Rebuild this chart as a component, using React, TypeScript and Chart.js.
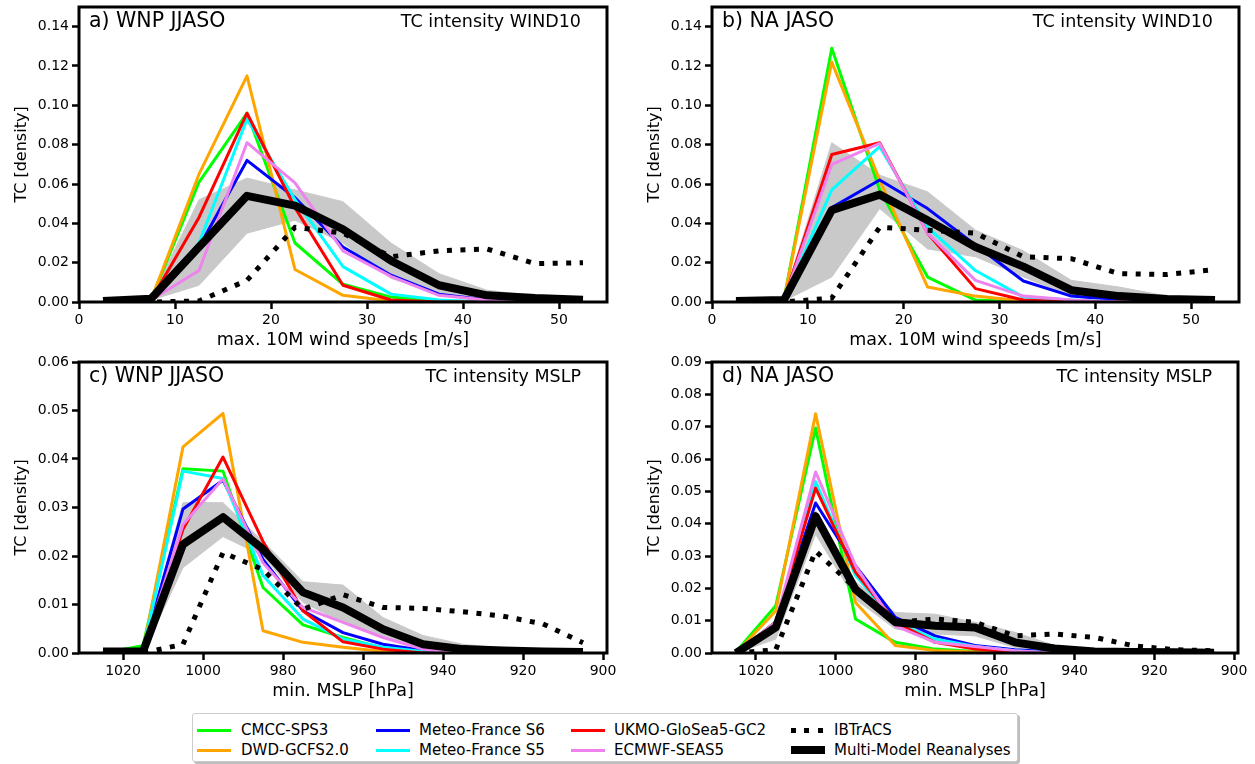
import React, { useEffect, useRef } from "react";
import { Chart, registerables } from "chart.js";
Chart.register(...registerables);

const FONT = "'DejaVu Sans', sans-serif";

// ---------- bins & ticks ----------
const windBins = [2.5, 7.5, 12.5, 17.5, 22.5, 27.5, 32.5, 37.5, 42.5, 47.5, 52.5];
const mslpBins = [1025, 1015, 1005, 995, 985, 975, 965, 955, 945, 935, 925, 915, 905];
const windTicks = [0, 10, 20, 30, 40, 50];
const mslpTicks = [1020, 1000, 980, 960, 940, 920, 900];
const densTicksWind = [0, 0.02, 0.04, 0.06, 0.08, 0.1, 0.12, 0.14];
const densTicksWnpMslp = [0, 0.01, 0.02, 0.03, 0.04, 0.05, 0.06];
const densTicksNaMslp = [0, 0.01, 0.02, 0.03, 0.04, 0.05, 0.06, 0.07, 0.08, 0.09];

const modelNames = ["CMCC-SPS3", "DWD-GCFS2.0", "Meteo-France S6", "Meteo-France S5", "UKMO-GloSea5-GC2", "ECMWF-SEAS5"];
const modelColors = ["#00ff00", "#ffa500", "#0000ff", "#00ffff", "#ff0000", "#ee82ee"];

// ---------- a) WNP JJASO wind ----------
const aCMCC = [0, 0.001, 0.061, 0.096, 0.030, 0.009, 0.0025, 0.0005, 0, 0, 0];
const aDWD = [0, 0.001, 0.065, 0.115, 0.0165, 0.0034, 0.0005, 0, 0, 0, 0];
const aMF6 = [0, 0.001, 0.028, 0.072, 0.053, 0.028, 0.0136, 0.004, 0.001, 0, 0];
const aMF5 = [0, 0.001, 0.030, 0.093, 0.052, 0.018, 0.004, 0.001, 0, 0, 0];
const aUKMO = [0, 0.001, 0.043, 0.096, 0.048, 0.0085, 0.001, 0, 0, 0, 0];
const aECMWF = [0, 0.001, 0.016, 0.081, 0.0606, 0.026, 0.013, 0.0034, 0.001, 0, 0];
const aIBTrACS = [0, 0, 0.0005, 0.011, 0.038, 0.035, 0.023, 0.026, 0.027, 0.0195, 0.020];
const aReanalyses = [0.0005, 0.0017, 0.028, 0.054, 0.049, 0.037, 0.021, 0.0085, 0.0034, 0.002, 0.0012];
const aBandUpper = [0.001, 0.002, 0.052, 0.063, 0.057, 0.051, 0.030, 0.0144, 0.006, 0.003, 0.002];
const aBandLower = [0, 0.001, 0.0085, 0.035, 0.0416, 0.030, 0.012, 0.004, 0.001, 0, 0];

// ---------- b) NA JASO wind ----------
const bCMCC = [0, 0.001, 0.129, 0.057, 0.0127, 0.001, 0, 0, 0, 0, 0];
const bDWD = [0, 0.001, 0.122, 0.062, 0.0076, 0.003, 0.0005, 0, 0, 0, 0];
const bMF6 = [0, 0.001, 0.048, 0.062, 0.0475, 0.029, 0.0107, 0.003, 0.001, 0, 0];
const bMF5 = [0, 0.001, 0.057, 0.079, 0.038, 0.016, 0.0025, 0.001, 0, 0, 0];
const bUKMO = [0, 0.001, 0.075, 0.081, 0.035, 0.0068, 0.001, 0, 0, 0, 0];
const bECMWF = [0, 0.001, 0.070, 0.0806, 0.035, 0.011, 0.003, 0.001, 0, 0, 0];
const bIBTrACS = [0, 0, 0.002, 0.038, 0.0365, 0.035, 0.023, 0.022, 0.0144, 0.014, 0.0165];
const bReanalyses = [0.0005, 0.001, 0.0467, 0.0546, 0.0416, 0.028, 0.018, 0.006, 0.003, 0.0015, 0.001];
const bBandUpper = [0.001, 0.002, 0.081, 0.0645, 0.056, 0.0365, 0.026, 0.011, 0.0076, 0.003, 0.0015];
const bBandLower = [0, 0.0005, 0.0127, 0.0475, 0.027, 0.023, 0.0127, 0.003, 0.001, 0, 0];

// ---------- c) WNP JJASO MSLP ----------
const cCMCC = [0, 0.0015, 0.038, 0.0375, 0.0135, 0.0058, 0.0032, 0.001, 0, 0, 0, 0, 0];
const cDWD = [0, 0.0005, 0.0425, 0.0494, 0.0046, 0.0022, 0.0012, 0.0003, 0, 0, 0, 0, 0];
const cMF6 = [0, 0.0005, 0.0297, 0.0356, 0.0193, 0.0087, 0.0042, 0.0018, 0.0005, 0, 0, 0, 0];
const cMF5 = [0, 0.0005, 0.0375, 0.036, 0.016, 0.007, 0.0029, 0.0012, 0.0003, 0, 0, 0, 0];
const cUKMO = [0, 0.0005, 0.0255, 0.0404, 0.023, 0.0087, 0.0023, 0.0008, 0, 0, 0, 0, 0];
const cECMWF = [0, 0.0005, 0.0265, 0.0359, 0.0186, 0.0094, 0.0063, 0.0032, 0.0008, 0, 0, 0, 0];
const cIBTrACS = [0, 0, 0.0018, 0.0207, 0.0172, 0.009, 0.012, 0.0094, 0.0092, 0.0085, 0.0076, 0.006, 0.0021];
const cReanalyses = [0.0003, 0.0003, 0.0224, 0.028, 0.0214, 0.0125, 0.0094, 0.0049, 0.0018, 0.0008, 0.0005, 0.0003, 0.0002];
const cBandUpper = [0.0005, 0.0008, 0.031, 0.031, 0.023, 0.0147, 0.014, 0.0073, 0.0036, 0.0018, 0.001, 0.0006, 0.0004];
const cBandLower = [0, 0, 0.0176, 0.024, 0.020, 0.0104, 0.0063, 0.0032, 0.001, 0.0003, 0, 0, 0];

// ---------- d) NA JASO MSLP ----------
const dCMCC = [0.0003, 0.0146, 0.0696, 0.0105, 0.0033, 0.0012, 0.0005, 0, 0, 0, 0, 0, 0];
const dDWD = [0, 0.013, 0.074, 0.0156, 0.0023, 0.0008, 0.0003, 0, 0, 0, 0, 0, 0];
const dMF6 = [0, 0.0095, 0.0464, 0.027, 0.011, 0.0053, 0.0023, 0.001, 0.0003, 0, 0, 0, 0];
const dMF5 = [0, 0.0095, 0.053, 0.024, 0.0095, 0.0043, 0.002, 0.0007, 0, 0, 0, 0, 0];
const dUKMO = [0, 0.0095, 0.051, 0.025, 0.0095, 0.0033, 0.0012, 0.0003, 0, 0, 0, 0, 0];
const dECMWF = [0, 0.0095, 0.056, 0.027, 0.0084, 0.0033, 0.002, 0.0007, 0, 0, 0, 0, 0];
const dIBTrACS = [0, 0.001, 0.0315, 0.020, 0.0095, 0.0105, 0.0095, 0.0053, 0.0059, 0.0048, 0.0022, 0.001, 0.0007];
const dReanalyses = [0, 0.0079, 0.0423, 0.0197, 0.0095, 0.0084, 0.0079, 0.0033, 0.0014, 0.0005, 0.0003, 0.0002, 0.0001];
const dBandUpper = [0.0003, 0.010, 0.044, 0.022, 0.0125, 0.012, 0.0095, 0.0064, 0.0023, 0.001, 0.0005, 0.0005, 0.0005];
const dBandLower = [0, 0.0043, 0.0367, 0.0166, 0.0074, 0.0059, 0.0053, 0.0017, 0.0005, 0, 0, 0, 0];

type Panel = {
  left: number; top: number; width: number; height: number;
  padTop: number; padRight: number; yWidth: number; xHeight: number;
  yTitlePad: number; xTitlePad: number;
  xMin: number; xMax: number; reverse: boolean;
  bins: number[]; xTicks: number[]; yMax: number; yTicks: number[];
  xTitle: string; label: string; rightLabel: string;
  models: number[][]; ibtracs: number[]; rean: number[]; upper: number[]; lower: number[];
};

const panels: Panel[] = [
  {
    left: 0, top: -7, width: 625, height: 363, padTop: 14, padRight: 18, yWidth: 79, xHeight: 54,
    yTitlePad: 12.4, xTitlePad: 5.5, xMin: 0, xMax: 55, reverse: false,
    bins: windBins, xTicks: windTicks, yMax: 0.15, yTicks: densTicksWind,
    xTitle: "max. 10M wind speeds [m/s]", label: "a) WNP JJASO", rightLabel: "TC intensity WIND10",
    models: [aCMCC, aDWD, aMF6, aMF5, aUKMO, aECMWF], ibtracs: aIBTrACS, rean: aReanalyses, upper: aBandUpper, lower: aBandLower,
  },
  {
    left: 630, top: -7, width: 625, height: 363, padTop: 14, padRight: 16, yWidth: 82, xHeight: 54,
    yTitlePad: 15.4, xTitlePad: 5.5, xMin: 0, xMax: 55, reverse: false,
    bins: windBins, xTicks: windTicks, yMax: 0.15, yTicks: densTicksWind,
    xTitle: "max. 10M wind speeds [m/s]", label: "b) NA JASO", rightLabel: "TC intensity WIND10",
    models: [bCMCC, bDWD, bMF6, bMF5, bUKMO, bECMWF], ibtracs: bIBTrACS, rean: bReanalyses, upper: bBandUpper, lower: bBandLower,
  },
  {
    left: 0, top: 348, width: 625, height: 365, padTop: 14, padRight: 18, yWidth: 79, xHeight: 60,
    yTitlePad: 12.4, xTitlePad: 11.5, xMin: 899, xMax: 1031, reverse: true,
    bins: mslpBins, xTicks: mslpTicks, yMax: 0.06, yTicks: densTicksWnpMslp,
    xTitle: "min. MSLP [hPa]", label: "c) WNP JJASO", rightLabel: "TC intensity MSLP",
    models: [cCMCC, cDWD, cMF6, cMF5, cUKMO, cECMWF], ibtracs: cIBTrACS, rean: cReanalyses, upper: cBandUpper, lower: cBandLower,
  },
  {
    left: 630, top: 348, width: 625, height: 365, padTop: 14, padRight: 17, yWidth: 82, xHeight: 60,
    yTitlePad: 15.4, xTitlePad: 11.5, xMin: 899, xMax: 1031, reverse: true,
    bins: mslpBins, xTicks: mslpTicks, yMax: 0.09, yTicks: densTicksNaMslp,
    xTitle: "min. MSLP [hPa]", label: "d) NA JASO", rightLabel: "TC intensity MSLP",
    models: [dCMCC, dDWD, dMF6, dMF5, dUKMO, dECMWF], ibtracs: dIBTrACS, rean: dReanalyses, upper: dBandUpper, lower: dBandLower,
  },
];

const BAND = "#c9c9c9";

function pts(bins: number[], vals: number[]) {
  return bins.map((x, i) => ({ x, y: vals[i] }));
}

function makeChart(canvas: HTMLCanvasElement, p: Panel) {
  const datasets: any[] = [];
  datasets.push({ label: "Multi-Model Reanalyses", data: pts(p.bins, p.rean), borderColor: "#000", borderWidth: 8, borderJoinStyle: "round", fill: false });
  datasets.push({ label: "IBTrACS", data: pts(p.bins, p.ibtracs), borderColor: "#000", borderWidth: 5, borderDash: [5, 8.5], borderCapStyle: "butt", fill: false });
  for (let i = p.models.length - 1; i >= 0; i--) {
    datasets.push({ label: modelNames[i], data: pts(p.bins, p.models[i]), borderColor: modelColors[i], borderWidth: 3, borderJoinStyle: "round", fill: false });
  }
  datasets.push({ label: "upper", data: pts(p.bins, p.upper), borderColor: BAND, borderWidth: 1, backgroundColor: BAND, fill: "+1" });
  datasets.push({ label: "lower", data: pts(p.bins, p.lower), borderColor: BAND, borderWidth: 1, fill: false });

  const framePlugin = {
    id: "frame",
    afterDatasetsDraw(chart: any) {
      const { ctx, chartArea: a } = chart;
      ctx.save();
      ctx.strokeStyle = "#000";
      ctx.lineWidth = 3;
      ctx.strokeRect(a.left, a.top, a.right - a.left, a.bottom - a.top);
      ctx.fillStyle = "#000";
      ctx.textBaseline = "alphabetic";
      ctx.font = `20.5px ${FONT}`;
      ctx.textAlign = "left";
      ctx.fillText(p.label, a.left + 10, a.top + 20);
      ctx.font = `17.5px ${FONT}`;
      ctx.textAlign = "right";
      ctx.fillText(p.rightLabel, a.right - 26, a.top + 20);
      ctx.restore();
    },
  };

  const tickFont = { family: FONT, size: 14 };

  return new Chart(canvas, {
    type: "line",
    data: { datasets },
    options: {
      animation: false,
      responsive: false,
      events: [],
      elements: { point: { radius: 0 }, line: { tension: 0 } },
      layout: { padding: { top: p.padTop, right: p.padRight, left: 0, bottom: 0 } },
      plugins: { legend: { display: false }, tooltip: { enabled: false }, title: { display: false } },
      scales: {
        x: {
          type: "linear",
          min: p.xMin,
          max: p.xMax,
          reverse: p.reverse,
          afterBuildTicks: (s: any) => { s.ticks = p.xTicks.map((v) => ({ value: v })); },
          afterFit: (s: any) => { s.height = p.xHeight; },
          grid: { display: true, drawOnChartArea: false, drawTicks: true, tickLength: 7, tickWidth: 2.5, tickColor: "#000" },
          border: { display: false },
          ticks: { color: "#000", font: tickFont, padding: 3, maxRotation: 0, autoSkip: false, callback: (v: any) => String(v) },
          title: { display: true, text: p.xTitle, color: "#000", font: { family: FONT, size: 17.5 }, padding: { top: 0, bottom: p.xTitlePad } },
        },
        y: {
          type: "linear",
          min: 0,
          max: p.yMax,
          afterBuildTicks: (s: any) => { s.ticks = p.yTicks.map((v) => ({ value: v })); },
          afterFit: (s: any) => { s.width = p.yWidth; },
          grid: { display: true, drawOnChartArea: false, drawTicks: true, tickLength: 7, tickWidth: 2.5, tickColor: "#000" },
          border: { display: false },
          ticks: { color: "#000", font: tickFont, padding: 3, autoSkip: false, callback: (v: any) => Number(v).toFixed(2) },
          title: { display: true, text: "TC [density]", color: "#000", font: { family: FONT, size: 16 }, padding: { top: p.yTitlePad, bottom: 0 } },
        },
      },
    },
    plugins: [framePlugin],
  } as any);
}

function PanelCanvas({ p }: { p: Panel }) {
  const ref = useRef<HTMLCanvasElement>(null);
  useEffect(() => {
    if (!ref.current) return;
    const ch = makeChart(ref.current, p);
    return () => ch.destroy();
  }, [p]);
  return (
    <canvas
      ref={ref}
      width={p.width}
      height={p.height}
      style={{ position: "absolute", left: p.left, top: p.top, width: p.width, height: p.height }}
    />
  );
}

const legendCols = [
  [0, 1],
  [2, 3],
  [4, 5],
];

function Legend() {
  const lineX = [196, 375, 570, 790];
  const textX = [240, 418, 613, 833];
  const rowY = [729, 749];
  const L = 192, T = 713;
  const txt = (k: string, x: number, y: number, s: string) => (
    <div key={k} style={{ position: "absolute", left: x - L, top: y - T - 9, lineHeight: "18px", fontSize: 15, whiteSpace: "nowrap" }}>
      {s}
    </div>
  );
  const items: React.ReactNode[] = [];
  legendCols.forEach((col, ci) => {
    col.forEach((mi, ri) => {
      items.push(
        <div key={"l" + mi} style={{ position: "absolute", left: lineX[ci] - L, top: rowY[ri] - T - 1.5, width: 34, height: 3, background: modelColors[mi] }} />
      );
      items.push(txt("t" + mi, textX[ci], rowY[ri], modelNames[mi]));
    });
  });
  items.push(
    <div key="ib" style={{ position: "absolute", left: lineX[3] - L, top: rowY[0] - T - 2.5, width: 34, height: 5, background: "repeating-linear-gradient(to right, #000 0px, #000 5px, transparent 5px, transparent 13.5px)" }} />
  );
  items.push(txt("ibt", textX[3], rowY[0], "IBTrACS"));
  items.push(
    <div key="re" style={{ position: "absolute", left: lineX[3] - L, top: rowY[1] - T - 4, width: 34, height: 8, background: "#000" }} />
  );
  items.push(txt("ret", textX[3], rowY[1], "Multi-Model Reanalyses"));
  return (
    <div
      style={{
        position: "absolute", left: L, top: T, width: 826, height: 49, boxSizing: "border-box",
        border: "1px solid #cccccc", borderRadius: 3, background: "#fff", boxShadow: "2px 2px 0 #bdbdbd",
        fontFamily: FONT, color: "#000",
      }}
    >
      {items}
    </div>
  );
}

export default function App() {
  useEffect(() => {
    document.body.style.margin = "0";
    document.body.style.background = "#fff";
  }, []);
  return (
    <div style={{ position: "relative", width: 1255, height: 764, overflow: "hidden", background: "#fff" }}>
      {panels.map((p, i) => (
        <PanelCanvas key={i} p={p} />
      ))}
      <Legend />
    </div>
  );
}
